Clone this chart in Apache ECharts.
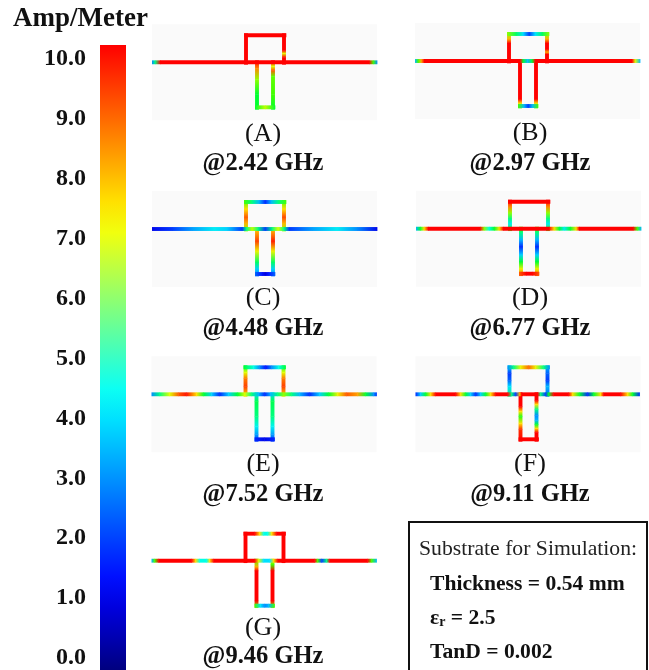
<!DOCTYPE html>
<html>
<head>
<meta charset="utf-8">
<style>
html,body{margin:0;padding:0;background:#fff}
#chart{width:649px;height:670px;filter:blur(0.35px)}
</style>
<script src="https://cdn.jsdelivr.net/npm/echarts@6/dist/echarts.min.js"></script>
</head>
<body>
<div id="chart"></div>
<script>
// Colour bar, bottom (0 A/m) to top (10 A/m), 0.5 A/m apart
const scaleColors = ['#00007f','#0000b0','#0000de','#0010ff','#0039ff','#0063ff','#008dff','#00b7ff','#00e0ff','#0cfff3','#3affc5','#68ff97','#95ff6a','#c3ff3c','#f1ff0e','#ffe000','#ffb300','#ff8600','#ff5900','#ff2d00','#ff0000'];
// Colours seen on the traces, same steps: the greens are purer than on the bar
const traceColors = ['#00007f','#0000b0','#0000de','#0010ff','#0039ff','#0063ff','#008dff','#00b7ff','#00e0ff','#00ffe6','#00ff80','#00ff30','#40ff00','#90ff00','#e0ff00','#ffe000','#ffb300','#ff8600','#ff5900','#ff2d00','#ff0000'];
const scaleTicks = [0,1,2,3,4,5,6,7,8,9,10];

// Readings are [position along the trace, current in A/m]
// Panel A
const feedA = [[0,3],[3,5],[8,10],[217,10],[221,6],[225,3]];
const topA = [[94,10],[132,10]];
const riseLeftA = [[11,10],[38,10]];
const riseRightA = [[11,10],[26,10],[29,7],[33,10],[38,10]];
const stubLeftA = [[38,10],[44,8.5],[55,6.5],[70,5.5],[83,5.5]];
const stubRightA = [[38,10],[42,7],[46,9],[52,6.2],[70,6],[83,5.5]];
const stubEndA = [[105,5.5],[113,6.8],[121,5.5]];
// Panel B
const feedB = [[0,3.5],[3,6],[6,8],[9,10],[105,10],[108,5.5],[112.5,3.5],[117,5.5],[120,10],[217,10],[220,7],[225,3.5]];
const topB = [[94,6.5],[101,5.2],[108,4],[114,2],[120,4],[127,5.2],[132,6.5]];
const riseLeftB = [[11,6.5],[16,8],[20,10],[38,10]];
const riseRightB = [[11,6.5],[16,8],[20,10],[26,10],[29,8],[31,10],[38,10]];
const stubLeftB = [[38,10],[76,10],[80,7.5],[83,6]];
const stubRightB = [[38,10],[76,10],[80,7.5],[83,6]];
const stubEndB = [[105,6],[109,3.5],[113,2],[117,3.5],[121,6]];
// Panel C
const feedC = [[0,1.2],[20,2],[40,3.2],[62,4.2],[75,3.8],[90,2],[94,5],[100,6.8],[106,5],[113,2],[120,5],[126,7],[132,5],[137,2],[160,3.2],[185,4.2],[205,3],[225,1.2]];
const topC = [[94,6],[100,5],[107,3.5],[113,1.8],[119,3.5],[126,5],[132,6]];
const riseLeftC = [[11,6],[18,7.5],[26,9],[32,8],[38,6.5]];
const riseRightC = [[11,6],[18,7.5],[26,9.2],[32,8],[38,6.5]];
const stubLeftC = [[38,7.5],[50,9.3],[60,7.2],[71,5.2],[78,3.8],[83,2.5]];
const stubRightC = [[38,7.5],[50,9.7],[60,7.2],[71,5.2],[78,3.8],[83,2.5]];
const stubEndC = [[105,2.5],[110,1.5],[113,1],[116,1.5],[121,2.5]];
// Panel D
const feedD = [[0,3.5],[4,5.5],[8,7.5],[12,10],[64,10],[68,6.5],[73,4.5],[78,5.5],[83,7.5],[87,10],[133,10],[138,7.5],[143,5.5],[148,4.2],[154,5.5],[160,7.5],[163,10],[217,10],[221,6],[225,3.5]];
const topD = [[94,10],[132,10]];
const riseLeftD = [[11,10],[16,8.5],[22,6.5],[28,5],[33,4.2],[38,6]];
const riseRightD = [[11,10],[16,8.5],[22,6.5],[28,5],[33,4.2],[38,6]];
const stubLeftD = [[38,6],[42,5],[49,3.5],[56,1.8],[64,3.8],[71,5.5],[78,7.2],[83,9]];
const stubRightD = [[38,6],[42,5],[49,3.5],[56,1.8],[64,3.8],[71,5.5],[78,7.2],[83,9]];
const stubEndD = [[105,9],[110,10],[116,10],[121,9]];
// Panel E
const feedE = [[0,3],[8,5],[18,7],[27,9],[35,9.8],[45,7.5],[52,5.5],[60,3.8],[68,1.8],[77,3.8],[86,5.5],[93,7],[100,5],[107,3.5],[113,1.8],[119,3.5],[126,5],[132,6.5],[140,5],[148,3.5],[158,1.8],[168,3.8],[177,5.5],[186,7.2],[195,9],[206,8.2],[214,5.5],[222,3],[225,2]];
const topE = [[94,5.5],[102,4.5],[108,3],[114,1.5],[120,3],[127,4.5],[132,5.5]];
const riseLeftE = [[11,5.5],[16,7],[22,8.6],[30,9.3],[38,7.5]];
const riseRightE = [[11,5.5],[16,7],[22,8.6],[30,9.3],[38,7.5]];
const stubLeftE = [[38,4],[45,5.3],[60,5],[70,4.3],[78,3.2],[83,2]];
const stubRightE = [[38,4],[45,5.3],[60,5],[70,4.3],[78,3.2],[83,2]];
const stubEndE = [[105,1.8],[113,1.2],[121,1.8]];
// Panel F
const feedF = [[0,1.8],[5,3.8],[10,5.5],[15,7.5],[20,10],[40,10],[45,7.5],[50,5.5],[55,3.8],[60,1.8],[65,3.8],[70,5.5],[75,7.5],[80,10],[92,10],[96,5],[100,2],[104,8],[106,10],[122,10],[125,5],[130,2],[133,5.5],[138,10],[153,10],[157,7.5],[164,5.5],[172,1.8],[178,5.5],[185,7.5],[188,10],[205,10],[212,7.5],[217,5.5],[224,1.8]];
const topF = [[94,3],[98,5],[105,7.2],[113,8.8],[120,7.2],[128,5],[132,3]];
const riseLeftF = [[11,4],[17,2],[24,2.5],[30,4],[38,5]];
const riseRightF = [[11,3.5],[17,2.5],[24,2],[30,3.5],[38,2.5]];
const stubLeftF = [[38,10],[50,10],[55,7.5],[60,5.8],[67,7.5],[73,9.5],[83,10]];
const stubRightF = [[38,10],[44,10],[48,7.5],[53,5],[59,3],[64,3.5],[68,5.5],[72,7.5],[76,10],[83,10]];
const stubEndF = [[105,10],[121,10]];
// Panel G
const feedG = [[0,3.5],[3,6],[7,10],[40,10],[44,7.5],[48,4.5],[55,4.5],[58,7.5],[62,10],[103,10],[107,7],[112,4],[118,4],[122,7.5],[126,10],[163,10],[166,6],[170,2],[175,5],[178,10],[216,10],[220,6],[225,3.5]];
const topG = [[94,10],[103,10],[108,7.5],[112,4.5],[116,4.5],[120,7.5],[125,10],[132,10]];
const riseLeftG = [[11,10],[38,10]];
const riseRightG = [[11,10],[38,10]];
const stubLeftG = [[38,6],[44,8],[48,10],[78,10],[83,6.5]];
const stubRightG = [[38,7],[42,6],[48,10],[78,10],[83,6.5]];
const stubEndG = [[105,6],[109,4],[113,3],[117,3.5],[121,6]];

const panelNames = ['(A)','(B)','(C)','(D)','(E)','(F)','(G)'];
const panelFreqs = ['@2.42 GHz','@2.97 GHz','@4.48 GHz','@6.77 GHz','@7.52 GHz','@9.11 GHz','@9.46 GHz'];
const panelReadings = [
  [feedA,topA,riseLeftA,riseRightA,stubLeftA,stubRightA,stubEndA],
  [feedB,topB,riseLeftB,riseRightB,stubLeftB,stubRightB,stubEndB],
  [feedC,topC,riseLeftC,riseRightC,stubLeftC,stubRightC,stubEndC],
  [feedD,topD,riseLeftD,riseRightD,stubLeftD,stubRightD,stubEndD],
  [feedE,topE,riseLeftE,riseRightE,stubLeftE,stubRightE,stubEndE],
  [feedF,topF,riseLeftF,riseRightF,stubLeftF,stubRightF,stubEndF],
  [feedG,topG,riseLeftG,riseRightG,stubLeftG,stubRightG,stubEndG]
];
const unitLabel = 'Amp/Meter';
const boxLines = ['Substrate for Simulation:','Thickness = 0.54 mm','= 2.5','TanD = 0.002'];

// Layout
const SERIF = '"Liberation Serif","Times New Roman",serif';
const panelBoxes = [
  {l:152,t:24.3,cx:263,ny:134,fy:164,bg:'#fafafa'},
  {l:415,t:23,cx:530,ny:133,fy:164,bg:'#fafafa'},
  {l:152,t:191,cx:263,ny:298,fy:329,bg:'#fafafa'},
  {l:416,t:190.7,cx:530,ny:298,fy:329,bg:'#fafafa'},
  {l:151.5,t:356.3,cx:263,ny:464,fy:495,bg:'#fafafa'},
  {l:415.5,t:356.3,cx:530,ny:464,fy:495,bg:'#fafafa'},
  {l:151.5,t:522.7,cx:263,ny:628,fy:657,bg:'#ffffff'}
];
const TRACE_W = 3.9;
const FEED_Y = 38, TOP_Y = 11, STUB_Y = 83;
const TOP_L = 94, TOP_R = 132, STUB_L = 105, STUB_R = 121;

// one row per gap between two readings: x1,y1,x2,y2,v1,v2,capStart,capEnd
function rows(readings, place, capped){
  const out = [];
  for (let i = 0; i < readings.length - 1; i++){
    const a = readings[i], b = readings[i+1];
    const p = place(a[0]), q = place(b[0]);
    out.push([p[0],p[1],q[0],q[1],a[1],b[1],capped&&i===0?1:0,capped&&i===readings.length-2?1:0]);
  }
  return out;
}
function panelRows(r){
  const at = {
    feed:  v => [v, FEED_Y],
    top:   v => [v, TOP_Y],
    riseL: v => [TOP_L, v],
    riseR: v => [TOP_R, v],
    stubL: v => [STUB_L, v],
    stubR: v => [STUB_R, v],
    end:   v => [v, STUB_Y]
  };
  return [].concat(
    rows(r[2],at.riseL,true), rows(r[3],at.riseR,true), rows(r[1],at.top,true),
    rows(r[4],at.stubL,true), rows(r[5],at.stubR,true), rows(r[6],at.end,true),
    rows(r[0],at.feed,false)
  );
}
function renderSegment(params, api){
  const p = api.coord([api.value(0),api.value(1)]);
  const q = api.coord([api.value(2),api.value(3)]);
  const c1 = echarts.color.lerp(api.value(4)/10, traceColors);
  const c2 = echarts.color.lerp(api.value(5)/10, traceColors);
  const hw = TRACE_W/2;
  const capA = api.value(6) ? hw : 0, capB = api.value(7) ? hw : 0;
  const horiz = Math.abs(p[1]-q[1]) < 0.01;
  const shape = horiz
    ? {x:p[0]-capA, y:p[1]-hw, width:q[0]-p[0]+capA+capB+0.4, height:TRACE_W}
    : {x:p[0]-hw, y:p[1]-capA, width:TRACE_W, height:q[1]-p[1]+capA+capB+0.4};
  return {type:'rect', shape, style:{fill:{type:'linear',x:0,y:0,x2:horiz?1:0,y2:horiz?0:1,
    colorStops:[{offset:0,color:c1},{offset:1,color:c2}]}}};
}
// the colour bar: one rect spanning the scale axis, stops taken from scaleColors
function renderBar(params, api){
  const top = api.coord([0,api.value(1)]);
  const bottom = api.coord([0,api.value(0)]);
  const n = scaleColors.length - 1;
  return {type:'rect',
    shape:{x:params.coordSys.x, y:top[1], width:params.coordSys.width, height:bottom[1]-top[1]},
    style:{fill:{type:'linear',x:0,y:1,x2:0,y2:0,
      colorStops:scaleColors.map((color,i)=>({offset:i/n,color}))}}};
}

const grids = [], xAxes = [], yAxes = [], series = [], texts = [];
panelBoxes.forEach((b,i)=>{
  grids.push({left:b.l,top:b.t,width:225,height:96,show:true,backgroundColor:b.bg,borderWidth:0});
  xAxes.push({type:'value',gridIndex:i,min:0,max:225,show:false});
  yAxes.push({type:'value',gridIndex:i,min:0,max:96,inverse:true,show:false});
  series.push({
    type:'custom',xAxisIndex:i,yAxisIndex:i,silent:true,clip:false,
    renderItem:renderSegment,data:panelRows(panelReadings[i]),
    encode:{x:[0,2],y:[1,3]},dimensions:['x1','y1','x2','y2','v1','v2','a','b']
  });
  texts.push({type:'text',x:b.cx,y:b.ny,style:{text:panelNames[i],font:'26px '+SERIF,fill:'#111',textAlign:'center',textVerticalAlign:'middle'}});
  texts.push({type:'text',x:b.cx,y:b.fy,style:{text:panelFreqs[i],font:'bold 24.5px '+SERIF,fill:'#111',textAlign:'center',textVerticalAlign:'middle'}});
});
// tick labels beside the colour bar
grids.push({left:100,top:59,width:26,height:599,show:false});
xAxes.push({type:'value',gridIndex:7,show:false});
yAxes.push({type:'value',gridIndex:7,min:scaleTicks[0],max:scaleTicks[scaleTicks.length-1],interval:1,
  axisLine:{show:false},axisTick:{show:false},splitLine:{show:false},
  axisLabel:{margin:14,formatter:v=>v.toFixed(1),color:'#111',fontFamily:SERIF,fontWeight:'bold',fontSize:24}});
// colour bar itself
grids.push({left:100,top:45,width:26,height:625,show:false});
xAxes.push({type:'value',gridIndex:8,min:0,max:1,show:false});
yAxes.push({type:'value',gridIndex:8,min:0,max:10,show:false});
series.push({
  type:'custom',xAxisIndex:8,yAxisIndex:8,silent:true,clip:false,renderItem:renderBar,
  encode:{y:[0,1]},dimensions:['from','to'],
  data:[[scaleTicks[0],scaleTicks[scaleTicks.length-1]]]
});

texts.push({type:'text',x:80.5,y:19,style:{text:unitLabel,font:'bold 27px '+SERIF,fill:'#111',textAlign:'center',textVerticalAlign:'middle'}});
texts.push({type:'rect',shape:{x:409,y:522,width:238,height:152},style:{fill:'#fff',stroke:'#111',lineWidth:2},z:0});
texts.push({type:'text',x:419,y:549,z:2,style:{text:boxLines[0],font:'21.7px '+SERIF,fill:'#222',textAlign:'left',textVerticalAlign:'middle'}});
texts.push({type:'text',x:430,y:584,z:2,style:{text:boxLines[1],font:'bold 21.6px '+SERIF,fill:'#111',textAlign:'left',textVerticalAlign:'middle'}});
texts.push({type:'text',x:430,y:618,z:2,style:{
  text:'{e|ε}{r|r}{e| '+boxLines[2]+'}',textAlign:'left',textVerticalAlign:'middle',
  rich:{e:{font:'bold 21.6px '+SERIF,fill:'#111'},r:{font:'bold 14px '+SERIF,fill:'#111',padding:[8,0,0,0]}}
}});
texts.push({type:'text',x:430,y:652,z:2,style:{text:boxLines[3],font:'bold 21.6px '+SERIF,fill:'#111',textAlign:'left',textVerticalAlign:'middle'}});

const chart = echarts.init(document.getElementById('chart'),null,{renderer:'canvas'});
chart.setOption({
  animation:false,
  backgroundColor:'#fff',
  grid:grids,xAxis:xAxes,yAxis:yAxes,series,
  graphic:{elements:texts}
});
</script>
</body>
</html>
